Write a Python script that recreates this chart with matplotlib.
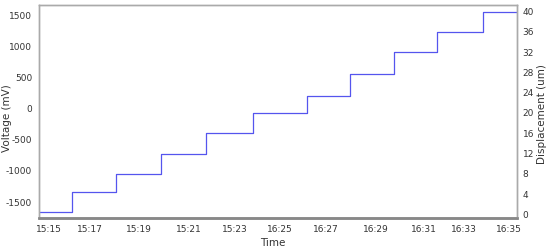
import matplotlib
matplotlib.use("Agg")
import matplotlib.pyplot as plt
import numpy as np

# Time in minutes from 15:15 (axis positions of the labelled ticks)
tick_pos = [0, 1.78, 3.91, 6.09, 8.09, 10.04, 12.04, 14.2, 16.3, 18.04, 20]
tick_labels = ["15:15", "15:17", "15:19", "15:21", "15:23", "16:25",
               "16:27", "16:29", "16:31", "16:33", "16:35"]

# step change times (min) and voltage levels (mV)
step_times = [1.0, 2.91, 4.87, 6.83, 8.87, 11.22, 13.09, 15.0, 16.87, 18.87]
levels_mv = [-1656, -1344, -1044, -721, -392, -65, 215, 565, 919, 1247, 1565]
t_start, t_end = -0.43, 20.35

disp_ticks = [0, 4, 8, 12, 16, 20, 24, 28, 32, 36, 40]
volt_ticks = [-1500, -1000, -500, 0, 500, 1000, 1500]

# build step line
xs = [t_start]
ys = [levels_mv[0]]
for i, t in enumerate(step_times):
    xs += [t, t]
    ys += [levels_mv[i], levels_mv[i + 1]]
xs.append(t_end)
ys.append(levels_mv[-1])

fig = plt.figure(figsize=(5.5, 2.5), dpi=100)
ax = fig.add_axes([39/550, 1 - 218/250, (517-39)/550, (218-5)/250])
ax.plot(xs, ys, color="#5555ee", lw=0.9)
ax.set_xlim(t_start, t_end)
ax.set_ylim(-1758, 1677)
ax.set_yticks(volt_ticks)
ax.set_yticklabels([str(v) for v in volt_ticks])
ax.set_xticks(tick_pos)
ax.set_xticklabels(tick_labels)
ax.tick_params(length=0, labelsize=6.5, colors="#333333", pad=5)
ax.set_ylabel("Voltage (mV)", fontsize=7.5, color="#333333", va="center")
ax.yaxis.set_label_coords(-0.066, 0.47)
ax.set_xlabel("Time", fontsize=7.5, color="#333333", va="center")
ax.xaxis.set_label_coords(0.49, -0.117)

ax2 = ax.twinx()
ax2.set_ylim(-0.73, 41.3)
ax2.set_yticks(disp_ticks)
ax2.tick_params(length=0, labelsize=6.5, colors="#333333", pad=4)
ax2.set_ylabel("Displacement (um)", fontsize=7.5, color="#333333", va="center")
ax2.yaxis.set_label_coords(1.052, 0.49)

for a in (ax, ax2):
    for s in ("left", "top", "right"):
        a.spines[s].set_color("#aaaaaa")
        a.spines[s].set_linewidth(1.0)
    a.spines["bottom"].set_color("#888888")
    a.spines["bottom"].set_linewidth(1.8)

fig.savefig("out.png", dpi=100)
